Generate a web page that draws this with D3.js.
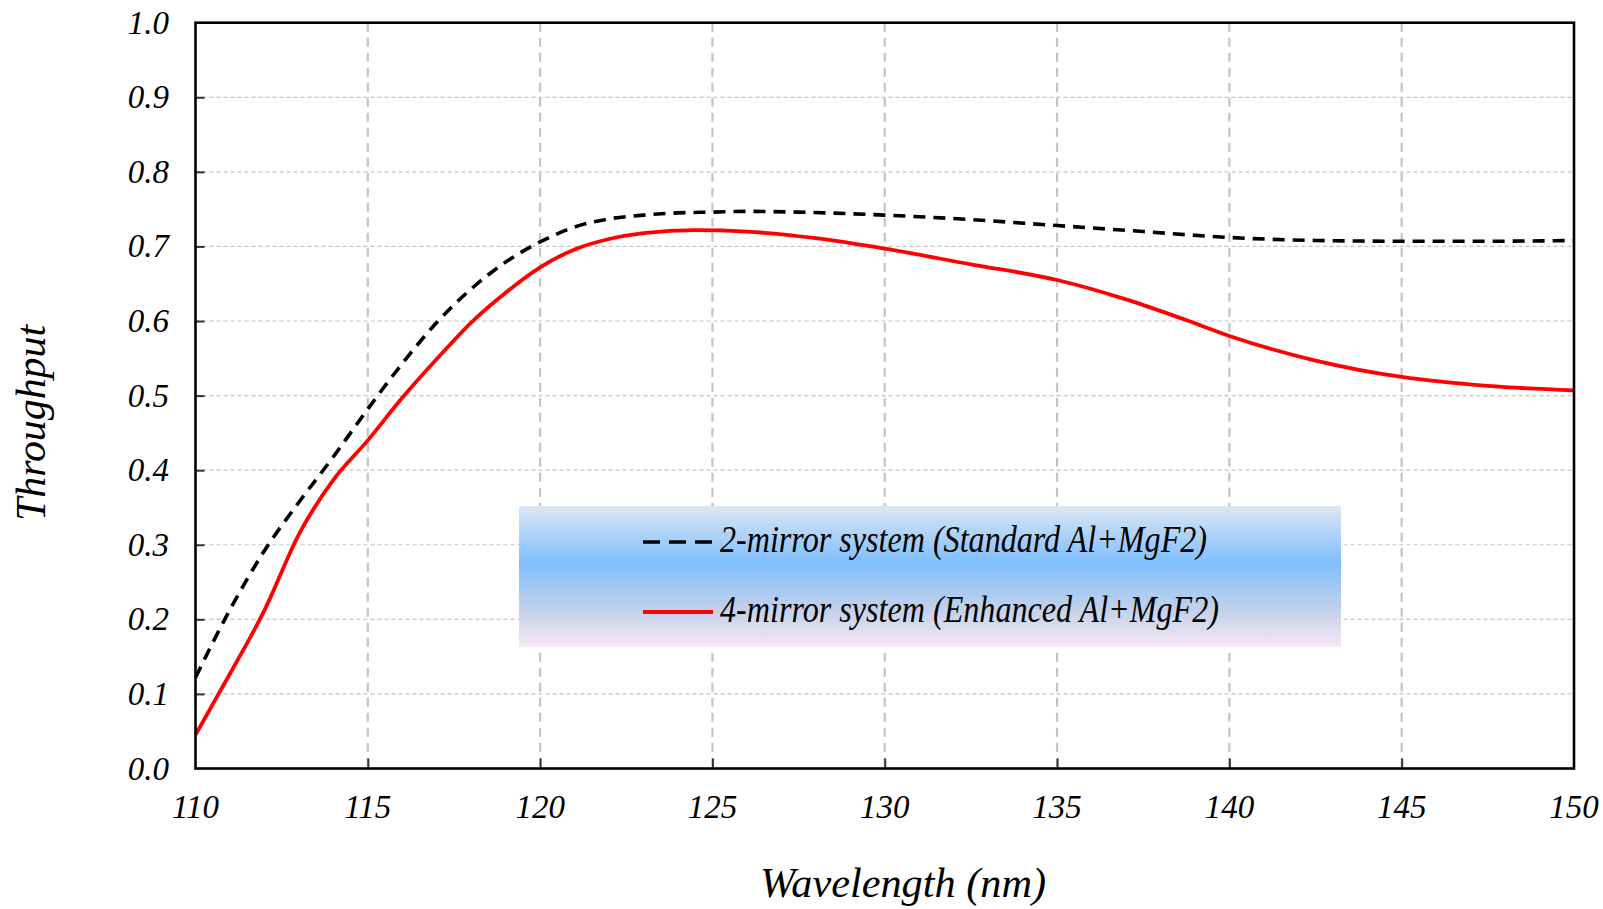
<html>
<head>
<title>Throughput</title>
<style>
body {
	margin: 0;
	background: white;
}

text {
	font-family: "Liberation Serif", "Times New Roman", serif;
	font-style: italic;
	fill: black;
}
</style>
<script type="text/javascript" src="https://cdn.jsdelivr.net/npm/d3@7/dist/d3.min.js"></script>
</head>
<body>
<div id="chart_panel"></div>
<script type="text/javascript">

	// 2-mirror system (Standard Al+MgF2)
	var wave2 = [110, 111, 112, 113, 114, 115, 116, 117, 118, 119, 120, 121, 122, 123, 124, 125, 126, 127.5, 130, 132.5, 135, 137.5, 140, 142.5, 145, 147.5, 150];
	var thru2 = [0.122, 0.213, 0.292, 0.357, 0.418, 0.482, 0.543, 0.598, 0.643, 0.679, 0.706, 0.726, 0.737, 0.742, 0.745, 0.746, 0.747, 0.746, 0.742, 0.736, 0.728, 0.720, 0.712, 0.708, 0.707, 0.707, 0.708];

	// 4-mirror system (Enhanced Al+MgF2)
	var wave4 = [110, 111, 112, 113, 114, 115, 116, 117, 118, 119, 120, 121, 122, 123, 124.5, 126, 128, 130, 132.5, 135, 137, 138.7, 140, 142.5, 145, 147.5, 150];
	var thru4 = [0.045, 0.127, 0.212, 0.314, 0.387, 0.440, 0.497, 0.549, 0.598, 0.638, 0.672, 0.696, 0.710, 0.718, 0.722, 0.720, 0.711, 0.697, 0.676, 0.655, 0.629, 0.602, 0.580, 0.547, 0.525, 0.513, 0.507];

	var xTicks = [110, 115, 120, 125, 130, 135, 140, 145, 150];
	var yTicks = [0.0, 0.1, 0.2, 0.3, 0.4, 0.5, 0.6, 0.7, 0.8, 0.9, 1.0];
	var seriesNames = ["2-mirror system (Standard Al+MgF2)", "4-mirror system (Enhanced Al+MgF2)"];

	var width = 1603, height = 909;
	var plotLeft = 195.5, plotRight = 1574, plotTop = 22.7, plotBottom = 768.5;

	var x = d3.scaleLinear().domain([110, 150]).range([plotLeft, plotRight]);
	var y = d3.scaleLinear().domain([0, 1]).range([plotBottom, plotTop]);

	var svg = d3.select("#chart_panel").append("svg")
		.attr("width", width)
		.attr("height", height);

	// grid
	svg.selectAll("line.vgrid")
		.data(xTicks.slice(1, -1))
		.enter().append("line")
			.attr("class", "vgrid")
			.attr("x1", function (d) { return x(d); })
			.attr("x2", function (d) { return x(d); })
			.attr("y1", plotTop)
			.attr("y2", plotBottom)
			.attr("stroke", "#c4c4c4")
			.attr("stroke-width", 2.2)
			.attr("stroke-dasharray", "9,6");

	svg.selectAll("line.hgrid")
		.data(yTicks.slice(1, -1))
		.enter().append("line")
			.attr("class", "hgrid")
			.attr("x1", plotLeft)
			.attr("x2", plotRight)
			.attr("y1", function (d) { return y(d); })
			.attr("y2", function (d) { return y(d); })
			.attr("stroke", "#c4c4c4")
			.attr("stroke-width", 1.2)
			.attr("stroke-dasharray", "4,3");

	// inward ticks
	var yAxis = d3.axisLeft(y).tickValues(yTicks.slice(1, -1)).tickSize(-9).tickFormat("");
	svg.append("g")
		.attr("transform", "translate(" + plotLeft + ",0)")
		.call(yAxis)
		.call(function (g) {
			g.select(".domain").remove();
			g.selectAll("line").attr("stroke", "#333").attr("stroke-width", 2);
		});

	var xAxis = d3.axisBottom(x).tickValues(xTicks.slice(1, -1)).tickSize(-10).tickFormat("");
	svg.append("g")
		.attr("transform", "translate(0," + plotBottom + ")")
		.call(xAxis)
		.call(function (g) {
			g.select(".domain").remove();
			g.selectAll("line").attr("stroke", "#333").attr("stroke-width", 2);
		});

	// tick labels
	svg.selectAll("text.ylab")
		.data(yTicks)
		.enter().append("text")
			.attr("class", "ylab")
			.attr("x", 169)
			.attr("y", function (d) { return y(d) + 11; })
			.attr("text-anchor", "end")
			.style("font-size", "33px")
			.text(function (d) { return d.toFixed(1); });

	svg.selectAll("text.xlab")
		.data(xTicks)
		.enter().append("text")
			.attr("class", "xlab")
			.attr("x", function (d) { return x(d); })
			.attr("y", 818)
			.attr("text-anchor", "middle")
			.style("font-size", "33px")
			.text(function (d) { return d; });

	// axis titles
	svg.append("text")
		.attr("x", 903)
		.attr("y", 897)
		.attr("text-anchor", "middle")
		.attr("textLength", 286)
		.attr("lengthAdjust", "spacingAndGlyphs")
		.style("font-size", "43px")
		.text("Wavelength (nm)");

	svg.append("text")
		.attr("transform", "translate(45,423) rotate(-90)")
		.attr("text-anchor", "middle")
		.attr("textLength", 196)
		.attr("lengthAdjust", "spacingAndGlyphs")
		.style("font-size", "43px")
		.text("Throughput");

	// curves
	var line = d3.line()
		.x(function (d) { return x(d[0]); })
		.y(function (d) { return y(d[1]); })
		.curve(d3.curveMonotoneX);

	svg.append("path")
		.datum(d3.zip(wave2, thru2))
		.attr("d", line)
		.attr("fill", "none")
		.attr("stroke", "black")
		.attr("stroke-width", 3.6)
		.attr("stroke-dasharray", "12,8");

	svg.append("path")
		.datum(d3.zip(wave4, thru4))
		.attr("d", line)
		.attr("fill", "none")
		.attr("stroke", "#ff0000")
		.attr("stroke-width", 3.8);

	// frame
	svg.append("rect")
		.attr("x", plotLeft)
		.attr("y", plotTop)
		.attr("width", plotRight - plotLeft)
		.attr("height", plotBottom - plotTop)
		.attr("fill", "none")
		.attr("stroke", "black")
		.attr("stroke-width", 2.6);

	// legend
	var grad = svg.append("defs").append("linearGradient")
		.attr("id", "legend_bg")
		.attr("x1", 0).attr("y1", 0).attr("x2", 0).attr("y2", 1);
	grad.append("stop").attr("offset", "0").attr("stop-color", "#dde7f3");
	grad.append("stop").attr("offset", "0.4").attr("stop-color", "#80bffd");
	grad.append("stop").attr("offset", "0.75").attr("stop-color", "#c6d2ea");
	grad.append("stop").attr("offset", "1").attr("stop-color", "#f6e8f5");

	svg.append("rect")
		.attr("x", 519)
		.attr("y", 506)
		.attr("width", 822)
		.attr("height", 141)
		.attr("fill", "url(#legend_bg)");

	var legendRows = [
		{name: seriesNames[0], color: "black", dash: "17,9", width: 3.6, y: 542, len: 487},
		{name: seriesNames[1], color: "#ff0000", dash: null, width: 3.8, y: 612, len: 499}
	];

	var legend = svg.selectAll("g.legend")
		.data(legendRows)
		.enter().append("g")
			.attr("class", "legend");
	legend.append("line")
		.attr("x1", 643)
		.attr("x2", 713)
		.attr("y1", function (d) { return d.y; })
		.attr("y2", function (d) { return d.y; })
		.attr("stroke", function (d) { return d.color; })
		.attr("stroke-width", function (d) { return d.width; })
		.attr("stroke-dasharray", function (d) { return d.dash; });
	legend.append("text")
		.attr("x", 720)
		.attr("y", function (d) { return d.y + 10; })
		.attr("textLength", function (d) { return d.len; })
		.attr("lengthAdjust", "spacingAndGlyphs")
		.style("font-size", "37px")
		.text(function (d) { return d.name; });
</script>
</body>
</html>
